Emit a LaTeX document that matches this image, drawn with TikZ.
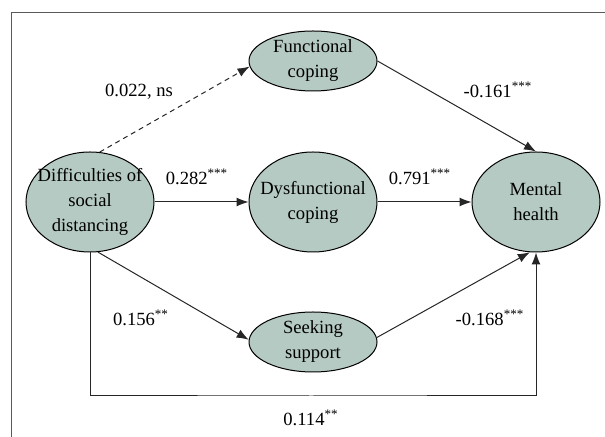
\documentclass[tikz,border=0pt]{standalone}
\usepackage{fontspec}
\setmainfont{Liberation Serif}
\usetikzlibrary{shapes.geometric, arrows.meta, positioning}
\definecolor{varfill}{HTML}{B5CAC2}

\begin{document}
\begin{tikzpicture}[x=0.5pt, y=-0.5pt, font=\fontsize{9.3}{12.5}\selectfont,
  bigvar/.style={ellipse, draw=black, line width=0.5pt, fill=varfill, align=center,
    inner xsep=-6pt, inner ysep=-1pt, minimum width=64pt, minimum height=50pt},
  smallvar/.style={bigvar, minimum height=30pt},
  link/.style={-{Latex[length=6pt, width=4.5pt]}, line width=0.5pt, black!85}]
\useasboundingbox (0,0) rectangle (605,437);
\draw[black!65, line width=0.6pt] (605,12.5) -- (11.5,12.5) -- (11.5,437);

\node[bigvar]   (dif)  at (90,202)  {Difficulties of\\social\\distancing};
\node[smallvar] (func) at (313,61)  {Functional\\coping};
\node[bigvar]   (dys)  at (313,202) {Dysfunctional\\coping};
\node[smallvar] (seek) at (313,342) {Seeking\\support};
\node[bigvar]   (ment) at (536,202) {Mental\\health};
\coordinate (base) at (311,396);

\draw[link, dash pattern=on 2.5pt off 2pt] (dif.79) -- (func.185);
\draw[link] (func.east) -- (ment.north);
\draw[link] (dif.east) -- (dys.west);
\draw[link] (dys.east) -- (ment.west);
\draw[link] (dif.-81) -- (seek.178);
\draw[link] (seek.4) -- (ment.263);
\draw[link] (dif.south) |- (base) -| (ment.south);

\node at (139,92)  {0.022, ns};
\node at (498,90)  {-0.161\textsuperscript{***}};
\node at (197,177) {0.282\textsuperscript{***}};
\node at (420,177) {0.791\textsuperscript{***}};
\node at (141,318) {0.156\textsuperscript{**}};
\node at (490,318) {-0.168\textsuperscript{***}};
\node at (311,418) {0.114\textsuperscript{**}};
\end{tikzpicture}
\end{document}
